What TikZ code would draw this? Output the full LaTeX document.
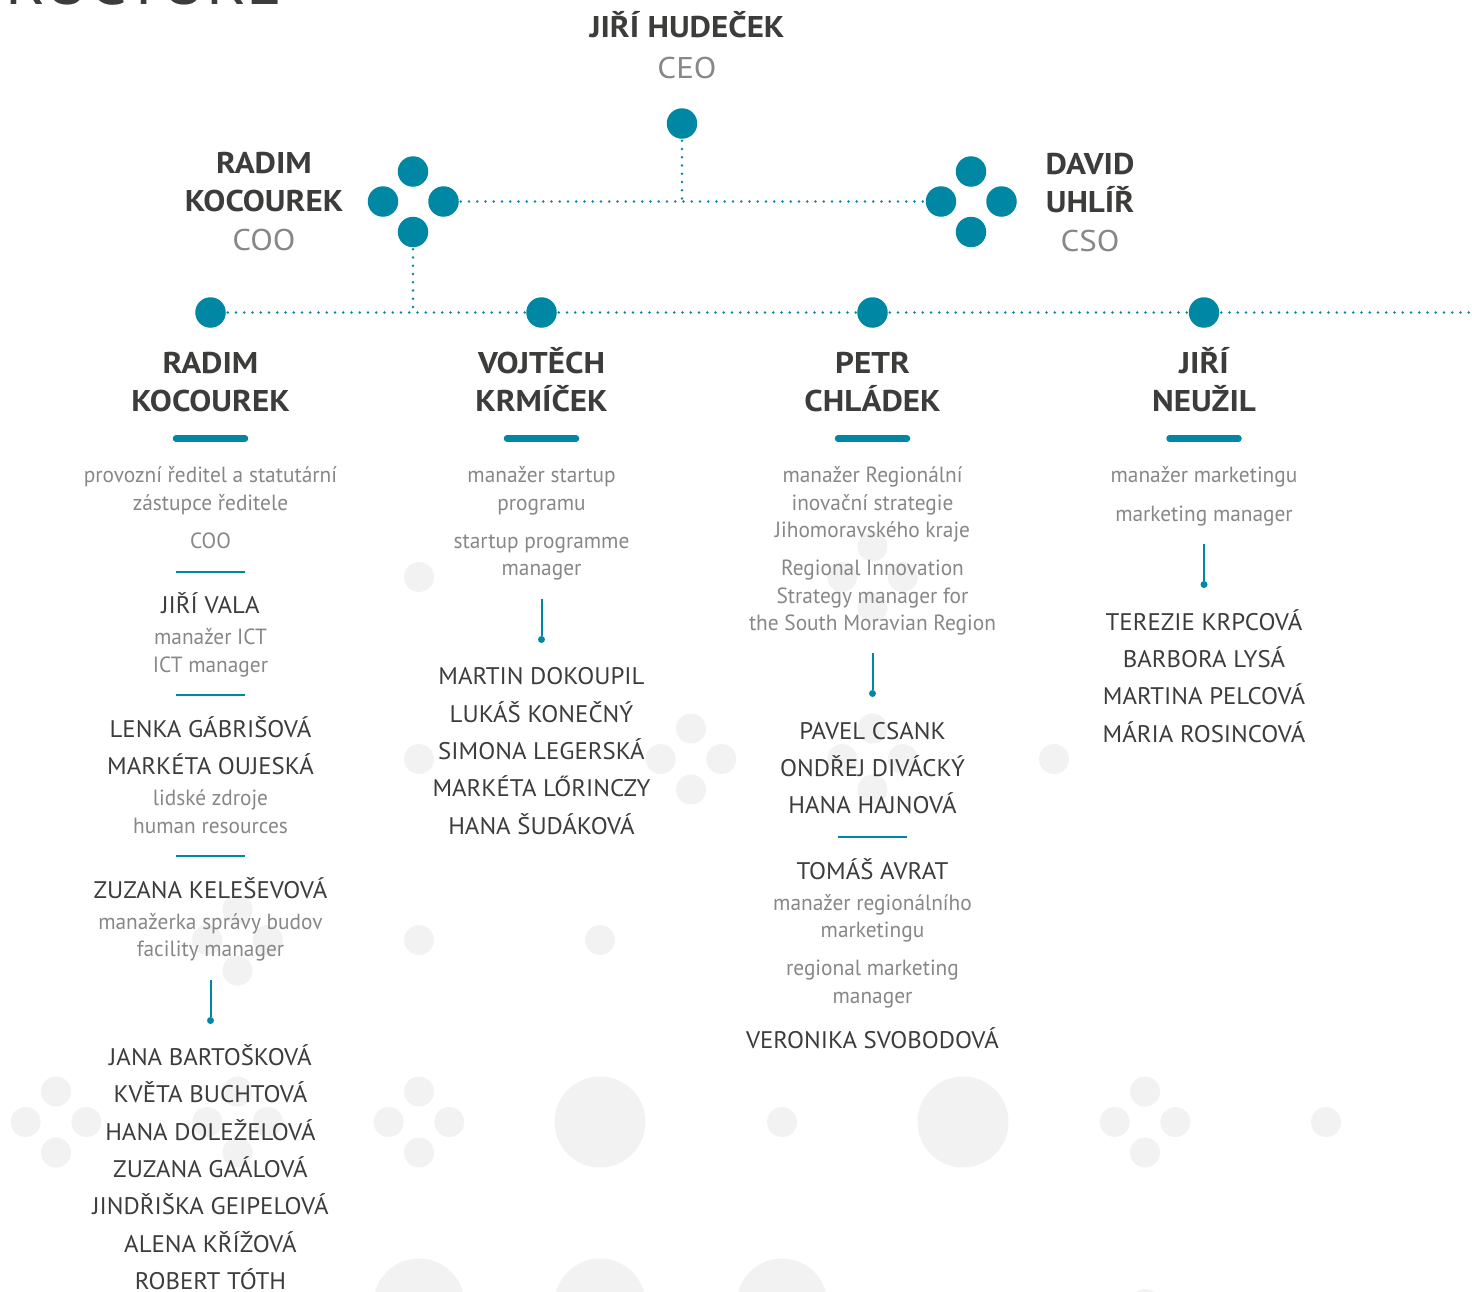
\documentclass[tikz,border=0pt]{standalone}
\usepackage{fontspec}
\setmainfont{PT Sans}
\newfontfamily\headfont[FakeStretch=1.1]{PT Sans}
\newfontfamily\persfont[FakeStretch=1.035]{PT Sans}
\newfontfamily\rolefont[FakeStretch=0.97]{PT Sans}
\definecolor{teal1}{HTML}{0087A3}
\definecolor{dark1}{HTML}{3C3C3B}
\definecolor{grey1}{HTML}{878787}
\definecolor{bg1}{HTML}{F2F2F2}
\tikzset{
  every node/.style={inner sep=0pt,outer sep=0pt,align=center},
  bigc/.style={circle,fill=teal1,minimum size=30.5pt},
  dotline/.style={teal1,line width=2.8pt,line cap=round,dash pattern=on 0pt off 8.25pt,shorten <=2pt},
  thickbar/.style={teal1,line width=6.5pt,line cap=round},
  thinbar/.style={teal1,line width=2pt},
  vline/.style={teal1,line width=2pt},
  enddot/.style={circle,fill=teal1,minimum size=7pt},
  head/.style={anchor=base,text=dark1,font=\headfont\fontsize{30}{30}\selectfont\bfseries},
  headgrey/.style={anchor=base,text=grey1,font=\headfont\fontsize{30}{30}\selectfont},
  person/.style={anchor=base,text=dark1,font=\persfont\fontsize{24}{24}\selectfont},
  role/.style={anchor=base,text=grey1,font=\rolefont\fontsize{22}{22}\selectfont},
}
\newcommand{\bgq}[2]{%
  \fill[bg1] (#1,#2-30.5) circle (15) (#1-30.3,#2) circle (15) (#1+30.3,#2) circle (15) (#1,#2+30.5) circle (15);}
\newcommand{\bgs}[2]{\fill[bg1] (#1,#2) circle (15);}
\newcommand{\bgb}[2]{\fill[bg1] (#1,#2) circle (45.5);}
\begin{document}
\begin{tikzpicture}[x=1pt,y=-1pt]
\path[use as bounding box] (0,0) rectangle (1472,1291);
\clip (0,0) rectangle (1472,1291);
% background
\bgs{419}{577}\bgq{872.5}{577}
\bgs{419}{759}\bgq{691}{759}\bgq{872.5}{759}\bgs{1054}{759}
\bgs{419}{940}\bgs{600}{940}\bgq{237.5}{940}
\bgq{56}{1122}\bgq{237.5}{1122}\bgq{419}{1122}\bgb{600}{1122}\bgs{782}{1122}\bgb{963}{1122}\bgq{1145}{1122}\bgs{1326}{1122}
\bgb{419}{1304}\bgb{600}{1304}\bgb{782}{1304}\bgs{1145}{1304}
% cropped title
\node[anchor=base east,text=dark1,font=\fontsize{67}{67}\selectfont] (title) at (282,4) {STRUCTURE};
% top level
\node[head] (ceoN) at (687,37) {JIŘÍ HUDEČEK};
\node[headgrey] (ceoT) at (687,78) {CEO};
\node[bigc] (ceo) at (682,123.5) {};
\node[bigc] (la) at (413,171.5) {};
\node[bigc] (lb) at (383,201.5) {};
\node[bigc] (lc) at (443.5,201.5) {};
\node[bigc] (ld) at (413,232) {};
\node[bigc] (ra) at (971,171.5) {};
\node[bigc] (rb) at (941,201.5) {};
\node[bigc] (rc) at (1001.5,201.5) {};
\node[bigc] (rd) at (971,232) {};
\coordinate (j1) at (682,201.5);
\draw[dotline] (ceo) -- (j1);
\draw[dotline] (lc) -- (rb);
\node[head] (h1) at (264,173) {RADIM};
\node[head] (h2) at (264,211) {KOCOUREK};
\node[headgrey] (h3) at (264,250) {COO};
\node[head] (h4) at (1090,174) {DAVID};
\node[head] (h5) at (1090,212) {UHLÍŘ};
\node[headgrey] (h6) at (1090,251) {CSO};
% row of circles
\node[bigc] (c1) at (210.5,312.5) {};
\node[bigc] (c2) at (541.5,312.5) {};
\node[bigc] (c3) at (872.5,312.5) {};
\node[bigc] (c4) at (1204,312.5) {};
\coordinate (j2) at (413,312.5);
\coordinate (endr) at (1472,312.5);
\draw[dotline] (ld) -- (j2);
\draw[dotline] (c1) -- (c2);
\draw[dotline] (c2) -- (c3);
\draw[dotline] (c3) -- (c4);
\draw[dotline] (c4) -- (endr);
% column heads
\node[head] (a1) at (210.5,373.5) {RADIM};
\node[head] (a2) at (210.5,411.5) {KOCOUREK};
\node[head] (b1) at (541.5,373.5) {VOJTĚCH};
\node[head] (b2) at (541.5,411.5) {KRMÍČEK};
\node[head] (d1) at (872.5,373.5) {PETR};
\node[head] (d2) at (872.5,411.5) {CHLÁDEK};
\node[head] (e1) at (1204,373.5) {JIŘÍ};
\node[head] (e2) at (1204,411.5) {NEUŽIL};
\foreach \x/\n in {210.5/p,541.5/q,872.5/r,1204/s}{
  \coordinate (\n L) at (\x-34.5,438.5);
  \coordinate (\n R) at (\x+34.5,438.5);
  \draw[thickbar] (\n L) -- (\n R);
}
% column 1
\node[role] (a3) at (210.5,482) {provozní ředitel a statutární};
\node[role] (a4) at (210.5,510) {zástupce ředitele};
\node[role] (a5) at (210.5,548) {COO};
\coordinate (a6l) at (176,571.5); \coordinate (a6r) at (245,571.5);
\draw[thinbar] (a6l) -- (a6r);
\node[person] (a7) at (210.5,613) {JIŘÍ VALA};
\node[role] (a8) at (210.5,644) {manažer ICT};
\node[role] (a9) at (210.5,672) {ICT manager};
\coordinate (a10l) at (176,695); \coordinate (a10r) at (245,695);
\draw[thinbar] (a10l) -- (a10r);
\node[person] (a11) at (210.5,737) {LENKA GÁBRIŠOVÁ};
\node[person] (a12) at (210.5,774) {MARKÉTA OUJESKÁ};
\node[role] (a13) at (210.5,805) {lidské zdroje};
\node[role] (a14) at (210.5,833) {human resources};
\coordinate (a15l) at (176,856); \coordinate (a15r) at (245,856);
\draw[thinbar] (a15l) -- (a15r);
\node[person] (a16) at (210.5,898) {ZUZANA KELEŠEVOVÁ};
\node[role] (a17) at (210.5,929) {manažerka správy budov};
\node[role] (a18) at (210.5,956) {facility manager};
\coordinate (a19) at (210.5,980);
\node[enddot] (a20) at (210.5,1020.5) {};
\draw[vline] (a19) -- (a20);
\node[person] (a21) at (210.5,1065) {JANA BARTOŠKOVÁ};
\node[person] (a22) at (210.5,1102) {KVĚTA BUCHTOVÁ};
\node[person] (a23) at (210.5,1140) {HANA DOLEŽELOVÁ};
\node[person] (a24) at (210.5,1177) {ZUZANA GAÁLOVÁ};
\node[person] (a25) at (210.5,1214) {JINDŘIŠKA GEIPELOVÁ};
\node[person] (a26) at (210.5,1252) {ALENA KŘÍŽOVÁ};
\node[person] (a27) at (210.5,1289) {ROBERT TÓTH};
% column 2
\node[role] (b3) at (541.5,482) {manažer startup};
\node[role] (b4) at (541.5,510) {programu};
\node[role] (b5) at (541.5,548) {startup programme};
\node[role] (b6) at (541.5,575) {manager};
\coordinate (b7) at (541.5,598.5);
\node[enddot] (b8) at (541.5,639.5) {};
\draw[vline] (b7) -- (b8);
\node[person] (b9) at (541.5,684) {MARTIN DOKOUPIL};
\node[person] (b10) at (541.5,722) {LUKÁŠ KONEČNÝ};
\node[person] (b11) at (541.5,759) {SIMONA LEGERSKÁ};
\node[person] (b12) at (541.5,796.5) {MARKÉTA LŐRINCZY};
\node[person] (b13) at (541.5,834) {HANA ŠUDÁKOVÁ};
% column 3
\node[role] (d3) at (872.5,482) {manažer Regionální};
\node[role] (d4) at (872.5,510) {inovační strategie};
\node[role] (d5) at (872.5,537) {Jihomoravského kraje};
\node[role] (d6) at (872.5,575) {Regional Innovation};
\node[role] (d7) at (872.5,603) {Strategy manager for};
\node[role] (d8) at (872.5,630) {the South Moravian Region};
\coordinate (d9) at (872.5,652.5);
\node[enddot] (d10) at (872.5,693.5) {};
\draw[vline] (d9) -- (d10);
\node[person] (d11) at (872.5,739) {PAVEL CSANK};
\node[person] (d12) at (872.5,776) {ONDŘEJ DIVÁCKÝ};
\node[person] (d13) at (872.5,813) {HANA HAJNOVÁ};
\coordinate (d14l) at (838,836.5); \coordinate (d14r) at (907,836.5);
\draw[thinbar] (d14l) -- (d14r);
\node[person] (d15) at (872.5,879) {TOMÁŠ AVRAT};
\node[role] (d16) at (872.5,910) {manažer regionálního};
\node[role] (d17) at (872.5,937) {marketingu};
\node[role] (d18) at (872.5,975) {regional marketing};
\node[role] (d19) at (872.5,1003) {manager};
\node[person] (d20) at (872.5,1048) {VERONIKA SVOBODOVÁ};
% column 4
\node[role] (e3) at (1204,482) {manažer marketingu};
\node[role] (e4) at (1204,521) {marketing manager};
\coordinate (e5) at (1204,544);
\node[enddot] (e6) at (1204,584.5) {};
\draw[vline] (e5) -- (e6);
\node[person] (e7) at (1204,630) {TEREZIE KRPCOVÁ};
\node[person] (e8) at (1204,667) {BARBORA LYSÁ};
\node[person] (e9) at (1204,704) {MARTINA PELCOVÁ};
\node[person] (e10) at (1204,742) {MÁRIA ROSINCOVÁ};
\end{tikzpicture}
\end{document}
